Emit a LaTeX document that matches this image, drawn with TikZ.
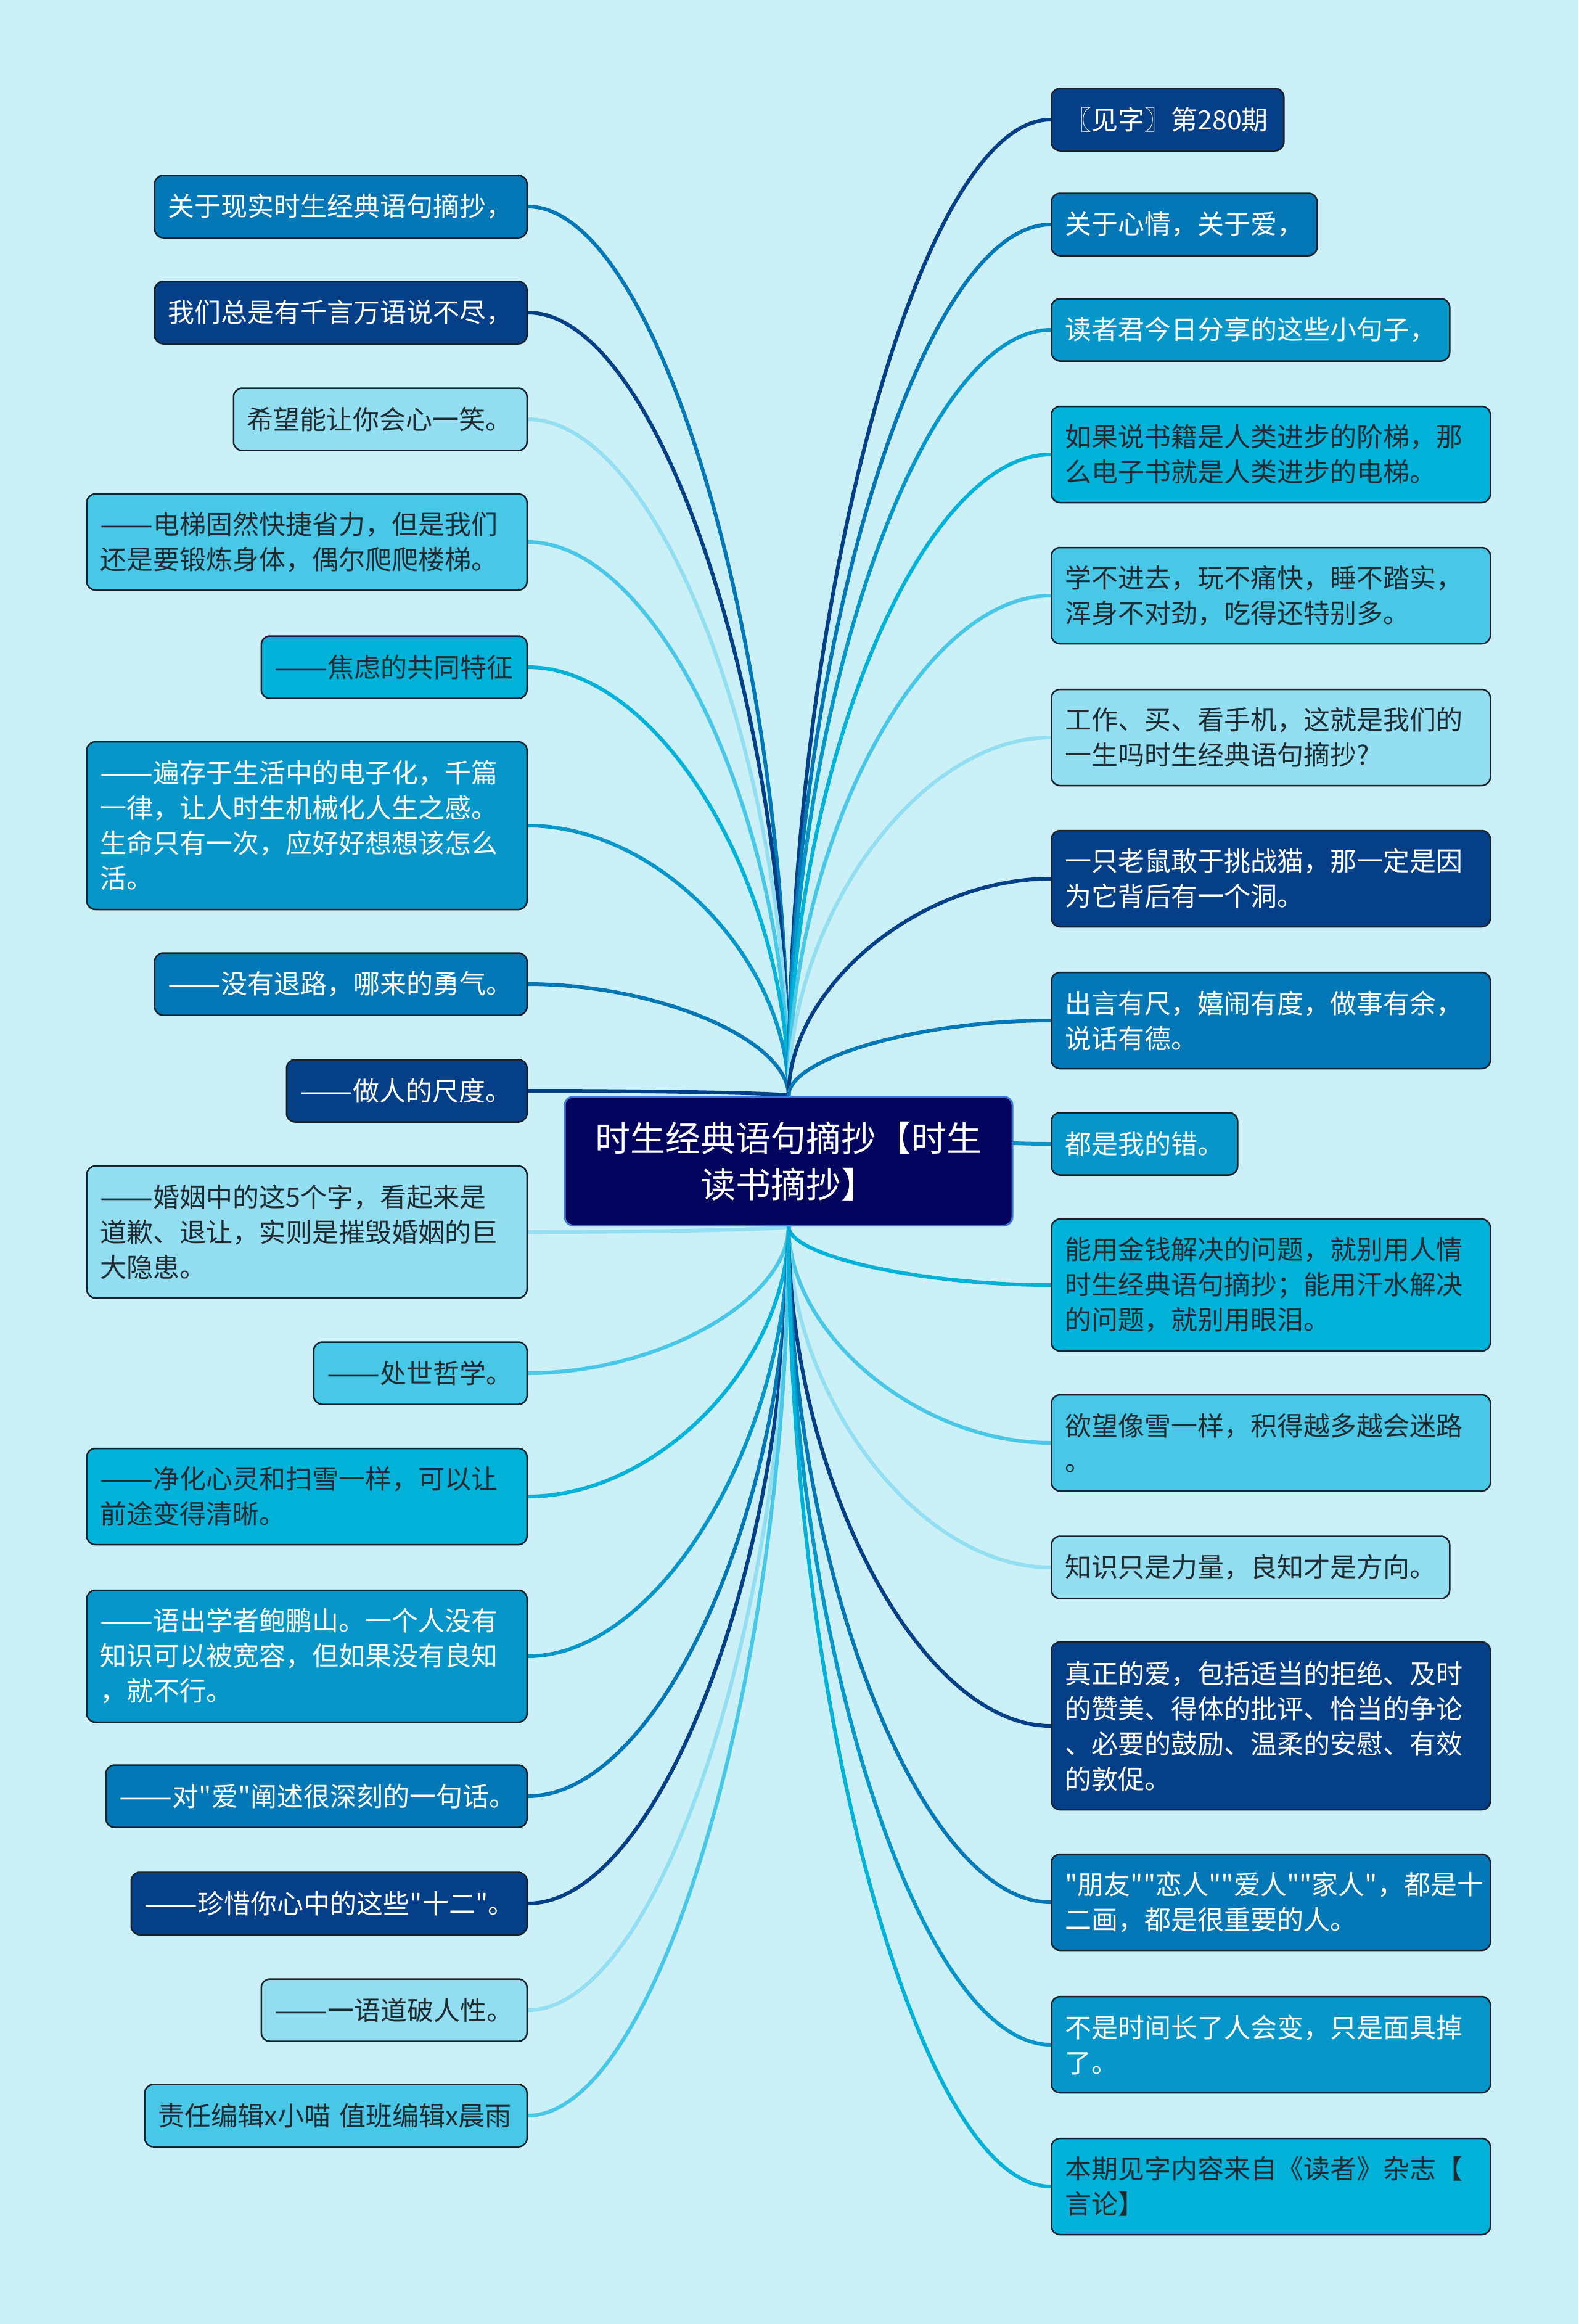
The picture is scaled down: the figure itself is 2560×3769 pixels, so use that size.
\documentclass[tikz,border=0pt]{standalone}
\usepackage{fontspec}
\usepackage{graphicx}
\newfontfamily\cjk{Noto Sans CJK SC}
\usetikzlibrary{calc}
\definecolor{bgc}{HTML}{CBF0F8}
\definecolor{cDark}{HTML}{053F87}
\definecolor{cMed}{HTML}{0477B6}
\definecolor{cMid}{HTML}{0796C9}
\definecolor{cCyan}{HTML}{03B2D9}
\definecolor{cLight}{HTML}{48C8E6}
\definecolor{cPale}{HTML}{93DEF0}
\definecolor{darktext}{HTML}{1E2B33}
\definecolor{bordc}{HTML}{15222C}
\definecolor{centfill}{HTML}{03045E}
\definecolor{centbord}{HTML}{3E76D8}
\pgfdeclarelayer{bglayer}
\pgfdeclarelayer{linelayer}
\pgfsetlayers{bglayer,linelayer,main}
\newcommand\myconn[3]{\draw[conn,draw=#3] (#1) .. controls ($(#1)!0.5!(#1|-#2)$) and ($(#2)!0.5!(#1|-#2)$) .. (#2);}
\newcommand\dd{\resizebox{2em}{\height}{——}}
\begin{document}
\begin{tikzpicture}[x=1pt,y=-1pt,
  box/.style={draw=bordc, line width=2.5pt, rounded corners=14pt, inner xsep=22pt, inner ysep=4pt,
    font=\cjk\fontsize{43}{57}\selectfont, align=left},
  lbox/.style={box, anchor=east},
  rbox/.style={box, anchor=west},
  h1/.style={minimum height=101pt},
  h2/.style={minimum height=156pt},
  h3/.style={minimum height=214pt},
  h4/.style={minimum height=272pt},
  fDark/.style={fill=cDark, text=white},
  fMed/.style={fill=cMed, text=white},
  fMid/.style={fill=cMid, text=white},
  fCyan/.style={fill=cCyan, text=darktext},
  fLight/.style={fill=cLight, text=darktext},
  fPale/.style={fill=cPale, text=darktext},
  conn/.style={line width=6pt},
  centre/.style={fill=centfill, draw=centbord, line width=3pt, rounded corners=14pt,
    minimum width=726pt, minimum height=209pt, text width=660pt, align=center,
    font=\cjk\fontsize{57}{75}\selectfont, text=white},
]
\begin{pgfonlayer}{bglayer}
\fill[bgc] (0,0) rectangle (2560,3769);
\end{pgfonlayer}
\useasboundingbox (0,0) rectangle (2560,3769);

\node[centre] (C) at (1279,1883) {时生经典语句摘抄【时生\\读书摘抄】};

% left column
\node[lbox,h1,fMed,text width=560pt] (L1) at (856,335) {关于现实时生经典语句摘抄，};
\node[lbox,h1,fDark,text width=560pt] (L2) at (856,507) {我们总是有千言万语说不尽，};
\node[lbox,h1,fPale,text width=432pt] (L3) at (856,680) {希望能让你会心一笑。};
\node[lbox,h2,fLight,text width=670pt] (L4) at (856,879) {\dd 电梯固然快捷省力，但是我们\\还是要锻炼身体，偶尔爬爬楼梯。};
\node[lbox,h1,fCyan,text width=387pt] (L5) at (856,1082) {\dd 焦虑的共同特征};
\node[lbox,h4,fMid,text width=670pt] (L6) at (856,1339) {\dd 遍存于生活中的电子化，千篇\\一律，让人时生机械化人生之感。\\生命只有一次，应好好想想该怎么\\活。};
\node[lbox,h1,fMed,text width=560pt] (L7) at (856,1596) {\dd 没有退路，哪来的勇气。};
\node[lbox,h1,fDark,text width=346pt] (L8) at (856,1769) {\dd 做人的尺度。};
\node[lbox,h3,fPale,text width=670pt] (L9) at (856,1998) {\dd 婚姻中的这5个字，看起来是\\道歉、退让，实则是摧毁婚姻的巨\\大隐患。};
\node[lbox,h1,fLight,text width=302pt] (L10) at (856,2227) {\dd 处世哲学。};
\node[lbox,h2,fCyan,text width=670pt] (L11) at (856,2427) {\dd 净化心灵和扫雪一样，可以让\\前途变得清晰。};
\node[lbox,h3,fMid,text width=670pt] (L12) at (856,2686) {\dd 语出学者鲍鹏山。一个人没有\\知识可以被宽容，但如果没有良知\\，就不行。};
\node[lbox,h1,fMed,text width=639pt] (L13) at (856,2913) {\dd 对"爱"阐述很深刻的一句话。};
\node[lbox,h1,fDark,text width=598pt] (L14) at (856,3087) {\dd 珍惜你心中的这些"十二"。};
\node[lbox,h1,fPale,text width=387pt] (L15) at (856,3260) {\dd 一语道破人性。};
\node[lbox,h1,fLight,text width=576pt] (L16) at (856,3431) {责任编辑x小喵 值班编辑x晨雨};

% right column
\node[rbox,h1,fDark,text width=333pt] (R1) at (1704,194) {〖见字〗第280期};
\node[rbox,h1,fMed,text width=387pt] (R2) at (1704,364) {关于心情，关于爱，};
\node[rbox,h1,fMid,text width=602pt] (R3) at (1704,535) {读者君今日分享的这些小句子，};
\node[rbox,h2,fCyan,text width=668pt] (R4) at (1704,737) {如果说书籍是人类进步的阶梯，那\\么电子书就是人类进步的电梯。};
\node[rbox,h2,fLight,text width=668pt] (R5) at (1704,966) {学不进去，玩不痛快，睡不踏实，\\浑身不对劲，吃得还特别多。};
\node[rbox,h2,fPale,text width=668pt] (R6) at (1704,1196) {工作、买、看手机，这就是我们的\\一生吗时生经典语句摘抄?};
\node[rbox,h2,fDark,text width=668pt] (R7) at (1704,1425) {一只老鼠敢于挑战猫，那一定是因\\为它背后有一个洞。};
\node[rbox,h2,fMed,text width=668pt] (R8) at (1704,1655) {出言有尺，嬉闹有度，做事有余，\\说话有德。};
\node[rbox,h1,fMid,text width=258pt] (R9) at (1704,1855) {都是我的错。};
\node[rbox,h3,fCyan,text width=668pt] (R10) at (1704,2084) {能用金钱解决的问题，就别用人情\\时生经典语句摘抄；能用汗水解决\\的问题，就别用眼泪。};
\node[rbox,h2,fLight,text width=668pt] (R11) at (1704,2340) {欲望像雪一样，积得越多越会迷路\\。};
\node[rbox,h1,fPale,text width=602pt] (R12) at (1704,2542) {知识只是力量，良知才是方向。};
\node[rbox,h4,fDark,text width=668pt] (R13) at (1704,2799) {真正的爱，包括适当的拒绝、及时\\的赞美、得体的批评、恰当的争论\\、必要的鼓励、温柔的安慰、有效\\的敦促。};
\node[rbox,h2,fMed,text width=668pt] (R14) at (1704,3085) {"朋友""恋人""爱人""家人"，都是十\\二画，都是很重要的人。};
\node[rbox,h2,fMid,text width=668pt] (R15) at (1704,3316) {不是时间长了人会变，只是面具掉\\了。};
\node[rbox,h2,fCyan,text width=668pt] (R16) at (1704,3546) {本期见字内容来自《读者》杂志【\\言论】};

\begin{pgfonlayer}{linelayer}
\myconn{C.north}{L1.east}{cMed}
\myconn{C.north}{L2.east}{cDark}
\myconn{C.north}{L3.east}{cPale}
\myconn{C.north}{L4.east}{cLight}
\myconn{C.north}{L5.east}{cCyan}
\myconn{C.north}{L6.east}{cMid}
\myconn{C.north}{L7.east}{cMed}
\myconn{C.north}{L8.east}{cDark}
\myconn{C.south}{L9.east}{cPale}
\myconn{C.south}{L10.east}{cLight}
\myconn{C.south}{L11.east}{cCyan}
\myconn{C.south}{L12.east}{cMid}
\myconn{C.south}{L13.east}{cMed}
\myconn{C.south}{L14.east}{cDark}
\myconn{C.south}{L15.east}{cPale}
\myconn{C.south}{L16.east}{cLight}
\myconn{C.north}{R1.west}{cDark}
\myconn{C.north}{R2.west}{cMed}
\myconn{C.north}{R3.west}{cMid}
\myconn{C.north}{R4.west}{cCyan}
\myconn{C.north}{R5.west}{cLight}
\myconn{C.north}{R6.west}{cPale}
\myconn{C.north}{R7.west}{cDark}
\myconn{C.north}{R8.west}{cMed}
\myconn{C.north}{R9.west}{cMid}
\myconn{C.south}{R10.west}{cCyan}
\myconn{C.south}{R11.west}{cLight}
\myconn{C.south}{R12.west}{cPale}
\myconn{C.south}{R13.west}{cDark}
\myconn{C.south}{R14.west}{cMed}
\myconn{C.south}{R15.west}{cMid}
\myconn{C.south}{R16.west}{cCyan}
\end{pgfonlayer}
\end{tikzpicture}
\end{document}
